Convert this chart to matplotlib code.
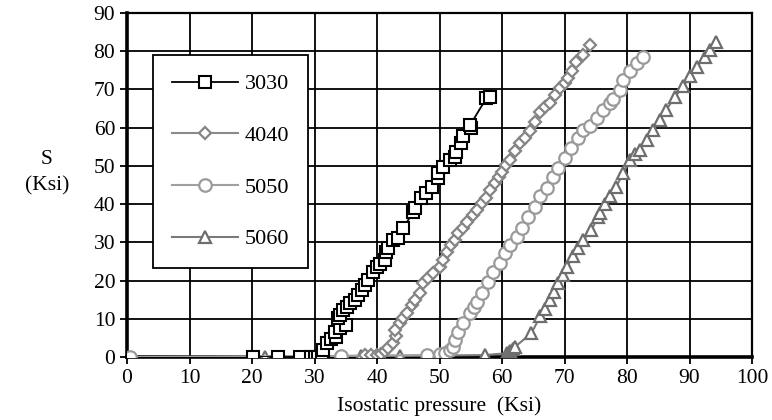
import matplotlib
matplotlib.use("Agg")
import matplotlib.pyplot as plt

plt.rcParams['font.family'] = ['Liberation Serif', 'DejaVu Serif']

# Data (isostatic pressure, S) in Ksi
x_3030 = [20.2, 24.2, 27.6, 29.4, 30.0, 30.6, 31.2, 31.3, 32.0, 32.6, 33.5, 33.2, 34.0, 35.0,
          33.8, 34.1, 34.6, 35.2, 35.7, 36.5, 37.0, 37.6, 38.1, 38.6, 39.4, 40.0, 40.5, 41.3,
          41.5, 41.8, 42.6, 43.4, 44.2, 45.8, 46.1, 47.1, 47.9, 48.8, 49.8, 49.8, 50.6, 51.7,
          52.5, 52.7, 53.5, 53.8, 55.1, 54.9, 57.5, 58.1]
y_3030 = [0, 0, 0, 0, 0, 0, 0, 1.8, 3.6, 4.8, 5.3, 6.5, 7.5, 8.4,
          10.1, 11.0, 12.3, 13.2, 14.1, 14.9, 16.2, 17.5, 18.8, 20.2, 22.3, 23.5, 24.3, 25.4,
          27.6, 28.5, 30.6, 31.1, 33.7, 38.0, 38.9, 41.5, 42.9, 44.6, 46.8, 48.1, 49.8, 51.6,
          52.4, 53.7, 55.9, 57.7, 59.9, 60.7, 67.7, 68.1]

x_4040 = [38.0, 39.0, 40.0, 40.6, 41.2, 41.8, 42.6, 43.1, 42.8, 43.6, 44.2, 44.8, 45.6, 46.0,
          46.8, 47.4, 48.2, 49.0, 50.0, 50.6, 51.2, 51.9, 52.4, 53.0, 53.8, 54.4, 55.4, 56.0,
          56.8, 57.5, 58.1, 58.9, 59.5, 60.0, 60.7, 61.3, 62.1, 62.9, 63.7, 64.5, 65.3, 66.1,
          66.9, 67.7, 68.5, 69.3, 70.0, 70.6, 71.2, 71.9, 73.0, 74.1]
y_4040 = [0.5, 0.5, 0.5, 0.8, 1.5, 2.3, 3.7, 5.5, 7.0, 8.8, 10.2, 11.4, 13.5, 14.9,
          16.8, 19.3, 20.6, 21.9, 23.5, 25.4, 27.6, 29.2, 30.6, 32.4, 33.8, 35.4, 37.2, 38.5,
          40.4, 41.5, 43.7, 45.4, 47.0, 48.5, 50.2, 51.6, 53.8, 55.9, 57.4, 59.0, 61.5, 64.2,
          65.3, 66.4, 68.5, 70.3, 71.8, 73.0, 74.8, 77.3, 79.0, 81.5]

x_5050 = [0.5, 34.3, 48.0, 50.0, 50.9, 51.7, 52.1, 52.5, 53.0, 53.8, 54.9, 55.5, 56.0, 56.8,
          57.8, 58.6, 59.7, 60.5, 61.3, 62.4, 63.2, 64.2, 65.3, 66.1, 67.2, 68.2, 69.0, 70.1,
          71.1, 72.2, 73.0, 74.1, 75.2, 76.2, 77.2, 77.8, 78.9, 79.4, 80.5, 81.6, 82.6]
y_5050 = [0, 0.3, 0.5, 0.8, 1.0, 1.8, 2.7, 4.5, 6.6, 8.8, 11.4, 13.0, 14.5, 16.7,
          19.7, 22.3, 24.5, 27.1, 29.3, 31.5, 33.7, 36.7, 39.3, 42.0, 44.2, 47.2, 49.4, 52.0,
          54.6, 57.2, 59.4, 60.5, 62.5, 64.7, 66.5, 67.5, 69.9, 72.5, 74.7, 76.9, 78.6]

x_5060 = [22.0, 37.5, 43.7, 57.3, 60.8, 61.3, 61.8, 62.1, 64.7, 66.1, 66.9, 67.7, 68.3, 69.0,
          69.7, 70.4, 71.4, 72.2, 73.0, 74.3, 75.4, 75.7, 76.5, 77.3, 78.3, 79.4, 80.5, 81.3,
          82.1, 83.2, 84.2, 85.3, 86.3, 87.7, 89.0, 90.1, 91.2, 92.5, 93.3, 94.3]
y_5060 = [0, 0.3, 0.3, 0.5, 1.0, 1.5, 2.0, 2.7, 6.2, 10.6, 12.5, 14.9, 17.0, 19.3,
          21.5, 23.6, 26.3, 28.5, 30.6, 33.2, 36.7, 37.6, 40.0, 42.0, 44.6, 48.1, 51.6, 53.0,
          54.2, 56.8, 59.4, 62.0, 64.7, 68.1, 70.8, 73.4, 76.0, 78.6, 80.4, 82.5]

x_ticks = list(range(0, 101, 10))
y_ticks = list(range(0, 91, 10))

fig = plt.figure(figsize=(7.72, 4.2), dpi=100)
ax = fig.add_axes([127 / 772, 1 - 357 / 420, 625 / 772, 344 / 420])

ax.plot(x_5060, y_5060, color="#7a7a7a", lw=1.5, marker="^", ms=9,
        mfc="white", mec="#6e6e6e", mew=1.6, label="5060", zorder=3)
ax.plot(x_5050, y_5050, color="#a0a0a0", lw=1.5, marker="o", ms=9,
        mfc="white", mec="#9a9a9a", mew=1.6, label="5050", zorder=3)
ax.plot(x_4040, y_4040, color="#8a8a8a", lw=1.5, marker="D", ms=6,
        mfc="white", mec="#858585", mew=1.6, label="4040", zorder=4)
ax.plot(x_3030, y_3030, color="black", lw=1.3, marker="s", ms=8.5,
        mfc="white", mec="black", mew=1.5, label="3030", zorder=5)

ax.set_xlim(0, 100)
ax.set_ylim(0, 90)
ax.set_xticks(x_ticks)
ax.set_yticks(y_ticks)
ax.grid(True, color="black", lw=1.3)
ax.set_axisbelow(True)
ax.tick_params(labelsize=15.5, direction="out", length=5, width=1.3, color="black")
for s in ax.spines.values():
    s.set_linewidth(1.6)
ax.spines["bottom"].set_linewidth(2.6)
ax.spines["left"].set_linewidth(2.6)

ax.set_xlabel("Isostatic pressure  (Ksi)", fontsize=15.5, labelpad=6)
fig.text(47 / 772, 1 - 160 / 420, "S", ha="center", va="center", fontsize=15.5)
fig.text(47 / 772, 1 - 186 / 420, "(Ksi)", ha="center", va="center", fontsize=15.5)

handles, labels = ax.get_legend_handles_labels()
order = [3, 2, 1, 0]
leg = ax.legend([handles[i] for i in order], [labels[i] for i in order],
                loc="upper left", bbox_to_anchor=(0.041, 0.878), fontsize=16,
                frameon=True, fancybox=False, framealpha=1, edgecolor="black",
                handlelength=3.0, labelspacing=1.4, borderpad=0.85,
                handletextpad=0.3, borderaxespad=0)
leg.get_frame().set_linewidth(1.3)

fig.savefig("out.png", dpi=100)
